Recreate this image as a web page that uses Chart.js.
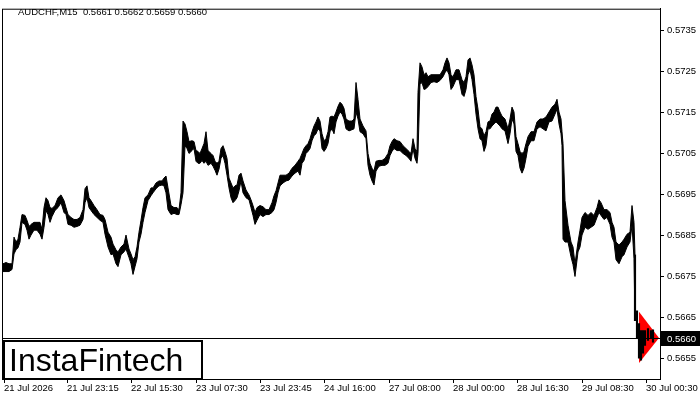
<!DOCTYPE html>
<html>
<head>
<meta charset="utf-8">
<script src="https://cdn.jsdelivr.net/npm/chart.js@4/dist/chart.umd.min.js"></script>
<style>
  html, body { margin: 0; padding: 0; background: #fff; }
  #wrap { width: 700px; height: 400px; }
</style>
</head>
<body>
<div id="wrap"><canvas id="chart" width="700" height="400"></canvas></div>
<script>
// bar index (1 bar = 15 min), highs and lows
const barIndex = [0,3,6,9,11,13,15,17,19,22,24,26,28,31,34,37,39,41,43,45,47,49,52,55,58,61,63,65,68,71,74,77,80,82,84,86,88,91,94,97,100,102,105,108,110,113,115,118,121,123,126,128,130,132,134,136,138,140,142,145,148,150,153,156,159,161,163,165,168,171,174,176,178,180,182,184,186,189,191,193,195,197,199,201,203,205,208,210,212,214,216,218,220,222,224,226,228,230,232,234,236,238,240,243,246,248,250,252,254,257,260,263,266,269,271,273,275,277,280,283,286,289,292,295,297,299,301,303,305,307,309,311,313,315,317,319,321,323,325,327,329,331,333,335,337,339,341,343,346,349,351,353,355,357,360,363,365,367,369,371,373,376,379,382,385,387,389,391,394,397,400,403,406,408,410,412,414,415,417,419,421,423,425,428,431,434,437,440,442,444,446,448,450,453,456,459,461,463,465,467,469,471,473,475,477,479,481,483,485,487,489,491,493,495,497,499,502,505,507,509,511,513,515,517,519,521,523,525,528,531,534,537,540,543,546,549,552,554,556,558,559,560,562,565,568,570,572,575,577,579,582,585,588,591,594,596,598,601,604,607,609,611,613,616,619,621,624,627,629,631,632,634,636,638,640,642,645,648,650];
const highs = [0.56781,0.56784,0.56781,0.56781,0.56846,0.56834,0.56841,0.56870,0.56901,0.56899,0.56887,0.56872,0.56877,0.56882,0.56882,0.56882,0.56865,0.56918,0.56942,0.56935,0.56918,0.56916,0.56923,0.56942,0.56949,0.56935,0.56918,0.56901,0.56894,0.56889,0.56889,0.56894,0.56913,0.56964,0.56971,0.56942,0.56935,0.56923,0.56913,0.56901,0.56899,0.56889,0.56858,0.56846,0.56829,0.56815,0.56810,0.56822,0.56829,0.56851,0.56817,0.56805,0.56791,0.56798,0.56822,0.56858,0.56887,0.56918,0.56942,0.56949,0.56966,0.56966,0.56978,0.56983,0.56983,0.56990,0.56995,0.56966,0.56923,0.56918,0.56918,0.56913,0.56954,0.57129,0.57122,0.57103,0.57079,0.57081,0.57079,0.57057,0.57055,0.57050,0.57062,0.57074,0.57103,0.57057,0.57050,0.57045,0.57031,0.57026,0.57031,0.57062,0.57069,0.57055,0.57038,0.56990,0.56978,0.56966,0.56971,0.56973,0.56997,0.57002,0.56983,0.56961,0.56949,0.56937,0.56923,0.56906,0.56918,0.56923,0.56920,0.56913,0.56913,0.56930,0.56947,0.56959,0.56978,0.56997,0.56997,0.56997,0.57002,0.57014,0.57021,0.57031,0.57038,0.57050,0.57062,0.57069,0.57074,0.57086,0.57103,0.57117,0.57127,0.57139,0.57129,0.57098,0.57081,0.57086,0.57103,0.57139,0.57141,0.57139,0.57151,0.57165,0.57175,0.57170,0.57160,0.57134,0.57129,0.57129,0.57134,0.57223,0.57182,0.57134,0.57117,0.57105,0.57050,0.57026,0.57014,0.57007,0.57031,0.57033,0.57033,0.57038,0.57050,0.57069,0.57079,0.57086,0.57081,0.57079,0.57069,0.57062,0.57055,0.57050,0.57086,0.57062,0.57055,0.57199,0.57271,0.57261,0.57242,0.57247,0.57237,0.57242,0.57242,0.57242,0.57242,0.57254,0.57271,0.57283,0.57271,0.57242,0.57237,0.57254,0.57254,0.57230,0.57223,0.57237,0.57278,0.57283,0.57266,0.57242,0.57189,0.57158,0.57115,0.57110,0.57093,0.57103,0.57127,0.57129,0.57146,0.57151,0.57163,0.57163,0.57151,0.57141,0.57134,0.57110,0.57134,0.57163,0.57151,0.57091,0.57074,0.57055,0.57050,0.57055,0.57074,0.57091,0.57103,0.57103,0.57127,0.57134,0.57134,0.57139,0.57151,0.57163,0.57170,0.57182,0.57151,0.57134,0.57103,0.57074,0.56935,0.56875,0.56834,0.56822,0.56781,0.56834,0.56863,0.56894,0.56906,0.56899,0.56906,0.56899,0.56918,0.56937,0.56930,0.56913,0.56913,0.56906,0.56882,0.56870,0.56834,0.56827,0.56834,0.56841,0.56853,0.56858,0.56923,0.56882,0.56803,0.56666,0.56635,0.56618,0.56618,0.56618,0.56623,0.56618,0.56620];
const lows = [0.56762,0.56762,0.56762,0.56767,0.56805,0.56815,0.56820,0.56834,0.56882,0.56877,0.56863,0.56841,0.56851,0.56863,0.56863,0.56853,0.56841,0.56870,0.56911,0.56901,0.56882,0.56896,0.56911,0.56918,0.56930,0.56906,0.56901,0.56877,0.56875,0.56870,0.56872,0.56875,0.56889,0.56930,0.56942,0.56918,0.56911,0.56901,0.56894,0.56887,0.56882,0.56853,0.56822,0.56803,0.56805,0.56781,0.56774,0.56803,0.56810,0.56817,0.56796,0.56781,0.56755,0.56774,0.56793,0.56834,0.56853,0.56882,0.56906,0.56935,0.56947,0.56954,0.56964,0.56971,0.56973,0.56971,0.56954,0.56913,0.56901,0.56904,0.56901,0.56901,0.56925,0.56954,0.57069,0.57062,0.57050,0.57057,0.57062,0.57031,0.57026,0.57026,0.57033,0.57026,0.57031,0.57021,0.57026,0.57019,0.57009,0.56997,0.57012,0.57038,0.57045,0.57026,0.56997,0.56966,0.56942,0.56930,0.56935,0.56942,0.56959,0.56983,0.56954,0.56942,0.56937,0.56918,0.56899,0.56877,0.56887,0.56901,0.56896,0.56901,0.56901,0.56906,0.56913,0.56930,0.56954,0.56971,0.56978,0.56983,0.56985,0.56995,0.57002,0.57007,0.56997,0.57026,0.57033,0.57050,0.57055,0.57062,0.57081,0.57093,0.57098,0.57110,0.57105,0.57062,0.57055,0.57062,0.57074,0.57103,0.57110,0.57098,0.57127,0.57141,0.57151,0.57146,0.57134,0.57110,0.57105,0.57108,0.57110,0.57151,0.57134,0.57103,0.57098,0.57086,0.57021,0.56997,0.56983,0.56973,0.57007,0.57019,0.57021,0.57021,0.57026,0.57045,0.57055,0.57062,0.57057,0.57057,0.57050,0.57045,0.57038,0.57031,0.57062,0.57038,0.57026,0.57050,0.57218,0.57223,0.57206,0.57208,0.57213,0.57223,0.57225,0.57223,0.57228,0.57237,0.57247,0.57254,0.57242,0.57206,0.57213,0.57230,0.57230,0.57194,0.57189,0.57206,0.57242,0.57254,0.57230,0.57194,0.57146,0.57110,0.57086,0.57081,0.57055,0.57069,0.57110,0.57110,0.57117,0.57122,0.57127,0.57122,0.57117,0.57110,0.57105,0.57074,0.57098,0.57134,0.57122,0.57055,0.57045,0.57014,0.57002,0.57014,0.57038,0.57067,0.57081,0.57081,0.57110,0.57115,0.57110,0.57105,0.57127,0.57129,0.57146,0.57158,0.57122,0.57098,0.57069,0.56841,0.56834,0.56834,0.56798,0.56779,0.56750,0.56810,0.56822,0.56851,0.56870,0.56865,0.56870,0.56875,0.56894,0.56906,0.56899,0.56889,0.56894,0.56877,0.56846,0.56834,0.56791,0.56781,0.56798,0.56803,0.56822,0.56834,0.56875,0.56793,0.56642,0.56601,0.56551,0.56546,0.56563,0.56582,0.56594,0.56599,0.56590];

// axis ticks
const xTickIndex = [1, 64, 128, 193, 257, 321, 386, 450, 514, 579, 643];
const xTickLabels = ["21 Jul 2026", "21 Jul 23:15", "22 Jul 15:30", "23 Jul 07:30", "23 Jul 23:45",
                     "24 Jul 16:00", "27 Jul 08:00", "28 Jul 00:00", "28 Jul 16:30", "29 Jul 08:30", "30 Jul 00:30"];
const yTicks = [0.5655, 0.5665, 0.5675, 0.5685, 0.5695, 0.5705, 0.5715, 0.5725, 0.5735];

// last bar / pattern
const symbolTitle = "AUDCHF,M15  0.5661 0.5662 0.5659 0.5660";
const lastClose = 0.5660;
const patternStart = 636, patternEnd = 656;
const patternTop = 0.56664, patternBottom = 0.56539;
const patternFrom = 632; // bars from here on are drawn one by one over the marker

const FONT = "Liberation Sans, Arial, sans-serif";

const pts = (lo, hi) => barIndex.map((v, i) => ({ x: v, y: hi ? highs[i] : lows[i] }));
const bandHigh = pts(false, true).filter(p => p.x <= patternFrom);
const bandLow = pts(true, false).filter(p => p.x <= patternFrom);
const lastBars = barIndex.map((v, i) => ({ x: v, y: [lows[i], highs[i]] })).filter(p => p.x >= patternFrom);

const mtPlugin = {
    id: "mtDecor",
    beforeDatasetsDraw(chart) {
        const { ctx, scales: { x, y } } = chart;
        // red pennant marker
        ctx.save();
        ctx.fillStyle = "#ff0000";
        ctx.beginPath();
        ctx.moveTo(x.getPixelForValue(patternStart), y.getPixelForValue(patternTop));
        ctx.lineTo(x.getPixelForValue(patternEnd), y.getPixelForValue(lastClose));
        ctx.lineTo(x.getPixelForValue(patternStart), y.getPixelForValue(patternBottom));
        ctx.closePath();
        ctx.fill();
        ctx.restore();
    },
    afterDraw(chart) {
        const { ctx, chartArea: a, scales: { y } } = chart;
        ctx.save();
        // frame
        ctx.strokeStyle = "#000";
        ctx.lineWidth = 1;
        ctx.strokeRect(a.left + 0.5, a.top + 0.5, a.right - a.left, a.bottom - a.top);

        // last price line + label
        const py = Math.round(y.getPixelForValue(lastClose)) + 0.5;
        ctx.beginPath();
        ctx.moveTo(a.left, py);
        ctx.lineTo(a.right, py);
        ctx.stroke();
        ctx.fillStyle = "#000";
        ctx.fillRect(a.right + 1, py - 7.5, 700 - a.right - 1, 15);
        ctx.fillStyle = "#fff";
        ctx.font = "9.5px " + FONT;
        ctx.textBaseline = "middle";
        ctx.fillText(lastClose.toFixed(4), a.right + 7, py + 0.5);

        // title
        ctx.fillStyle = "#000";
        ctx.fillText(symbolTitle, 18, 12);

        // logo box
        ctx.fillStyle = "#fff";
        ctx.fillRect(a.left + 2, 341, 198, a.bottom - 341);
        ctx.lineWidth = 2;
        ctx.strokeRect(a.left + 2, 341, 198, a.bottom - 341);
        ctx.fillStyle = "#000";
        ctx.font = "32px " + FONT;
        ctx.textBaseline = "alphabetic";
        ctx.fillText("InstaFintech", 9, 371);
        ctx.restore();
    }
};

new Chart(document.getElementById("chart").getContext("2d"), {
    type: "line",
    data: {
        datasets: [{
            label: "high",
            data: bandHigh,
            borderColor: "#000",
            backgroundColor: "#000",
            borderWidth: 1,
            pointRadius: 0,
            fill: "+1"
        }, {
            label: "low",
            data: bandLow,
            borderColor: "#000",
            borderWidth: 1,
            pointRadius: 0,
            fill: false
        }, {
            type: "bar",
            label: "last bars",
            data: lastBars,
            backgroundColor: "#000",
            borderWidth: 0,
            barThickness: 1.5,
            grouped: false
        }]
    },
    options: {
        responsive: false,
        animation: false,
        layout: { padding: { top: 3, left: 2, right: 0, bottom: 0 } },
        plugins: { legend: { display: false }, tooltip: { enabled: false } },
        scales: {
            x: {
                type: "linear",
                offset: false,
                min: -1,
                max: 657,
                afterBuildTicks: s => { s.ticks = xTickIndex.map(v => ({ value: v })); },
                afterFit: s => { s.height = 21; },
                grid: { drawOnChartArea: false, tickLength: 4, color: "#000", offset: false },
                border: { display: true, color: "#000" },
                ticks: {
                    autoSkip: false, maxRotation: 0, align: "start", padding: 0,
                    color: "#000", font: { family: FONT, size: 9.5 },
                    callback: v => xTickLabels[xTickIndex.indexOf(v)]
                }
            },
            y: {
                position: "right",
                min: 0.56500,
                max: 0.57403,
                afterBuildTicks: s => { s.ticks = yTicks.map(v => ({ value: v })); },
                afterFit: s => { s.width = 40; },
                grid: { drawOnChartArea: false, tickLength: 4, color: "#000" },
                border: { display: true, color: "#000" },
                ticks: {
                    padding: 3, color: "#000", font: { family: FONT, size: 9.5 },
                    callback: v => v.toFixed(4)
                }
            }
        }
    },
    plugins: [mtPlugin]
});
</script>
</body>
</html>
